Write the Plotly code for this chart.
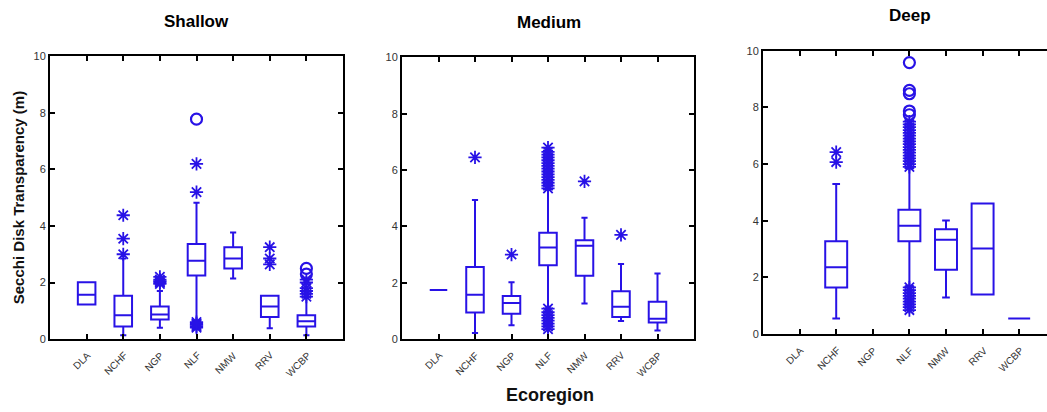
import plotly.graph_objects as go

categories = ["DLA", "NCHF", "NGP", "NLF", "NMW", "RRV", "WCBP"]
tick_labels = ["DLA", "NCHF", "NGP", "NLF", "NMW", "RRV", "WCBP"]
panel_titles = ["Shallow", "Medium", "Deep"]
y_ticks = [0, 2, 4, 6, 8, 10]

# Box statistics per panel (None = no data)
shallow_q1 = [1.22, 0.44, 0.69, 2.25, 2.50, 0.78, 0.44]
shallow_med = [1.57, 0.84, 0.87, 2.77, 2.85, 1.15, 0.63]
shallow_q3 = [2.01, 1.53, 1.15, 3.36, 3.25, 1.53, 0.84]
shallow_lo = [1.22, 0.13, 0.40, 0.65, 2.14, 0.38, 0.13]
shallow_hi = [2.01, 2.85, 1.70, 4.82, 3.77, 1.53, 1.47]

medium_q1 = [1.74, 0.94, 0.90, 2.62, 2.25, 0.78, 0.59]
medium_med = [1.74, 1.57, 1.28, 3.25, 3.31, 1.15, 0.72]
medium_q3 = [1.74, 2.56, 1.53, 3.77, 3.51, 1.70, 1.32]
medium_lo = [1.74, 0.21, 0.49, 1.15, 1.26, 0.64, 0.30]
medium_hi = [1.74, 4.94, 2.02, 5.30, 4.31, 2.66, 2.33]

deep_q1 = [None, 1.65, None, 3.28, 2.27, 1.40, 0.55]
deep_med = [None, 2.36, None, 3.82, 3.33, 3.02, 0.55]
deep_q3 = [None, 3.28, None, 4.39, 3.70, 4.61, 0.55]
deep_lo = [None, 0.55, None, 1.70, 1.29, 1.40, 0.55]
deep_hi = [None, 5.30, None, 5.85, 4.01, 4.61, 0.55]

# Outside values (asterisks) and far outside values (circles)
shallow_star_cat = ["NCHF", "NCHF", "NCHF", "NGP", "NGP", "NGP", "NGP", "NGP",
                    "NLF", "NLF", "NLF", "NLF", "NLF", "NLF", "NLF",
                    "RRV", "RRV", "RRV",
                    "WCBP", "WCBP", "WCBP", "WCBP", "WCBP", "WCBP"]
shallow_star_val = [3.00, 3.55, 4.38, 1.95, 2.00, 2.05, 2.10, 2.20,
                    0.40, 0.45, 0.50, 0.55, 0.60, 5.20, 6.20,
                    2.64, 2.85, 3.25,
                    1.50, 1.60, 1.70, 1.80, 2.00, 2.10]
shallow_circ_cat = ["NLF", "WCBP", "WCBP"]
shallow_circ_val = [7.78, 2.30, 2.50]

medium_star_cat = ["NCHF", "NGP",
                   "NLF", "NLF", "NLF", "NLF", "NLF", "NLF", "NLF", "NLF",
                   "NLF", "NLF", "NLF", "NLF", "NLF", "NLF", "NLF",
                   "NLF", "NLF", "NLF", "NLF", "NLF", "NLF", "NLF", "NLF",
                   "NMW", "RRV"]
medium_star_val = [6.45, 3.00,
                   5.35, 5.45, 5.55, 5.65, 5.75, 5.85, 5.95, 6.05,
                   6.15, 6.25, 6.35, 6.45, 6.55, 6.65, 6.80,
                   0.35, 0.45, 0.55, 0.65, 0.75, 0.85, 0.95, 1.08,
                   5.60, 3.70]
medium_circ_cat = []
medium_circ_val = []

deep_star_cat = ["NCHF", "NCHF",
                 "NLF", "NLF", "NLF", "NLF", "NLF", "NLF", "NLF", "NLF", "NLF",
                 "NLF", "NLF", "NLF", "NLF", "NLF", "NLF", "NLF", "NLF",
                 "NLF", "NLF", "NLF", "NLF", "NLF", "NLF", "NLF", "NLF", "NLF"]
deep_star_val = [6.07, 6.42,
                 5.90, 6.00, 6.10, 6.20, 6.30, 6.40, 6.50, 6.60, 6.70,
                 6.80, 6.90, 7.00, 7.10, 7.20, 7.30, 7.40, 7.50,
                 0.85, 0.95, 1.05, 1.15, 1.25, 1.35, 1.45, 1.55, 1.65]
deep_circ_cat = ["NLF", "NLF", "NLF", "NLF", "NLF"]
deep_circ_val = [7.74, 7.87, 8.48, 8.60, 9.58]

BLUE = "#2812e6"
FONT = "Liberation Sans, Arial, sans-serif"
W, H = 1047, 412

panels = [
    dict(q1=shallow_q1, med=shallow_med, q3=shallow_q3, lo=shallow_lo, hi=shallow_hi,
         sc=shallow_star_cat, sv=shallow_star_val, cc=shallow_circ_cat, cv=shallow_circ_val,
         px=(50, 343), py=(52, 343), bw=0.48, xr=[-1, 7], mirror_y="ticks"),
    dict(q1=medium_q1, med=medium_med, q3=medium_q3, lo=medium_lo, hi=medium_hi,
         sc=medium_star_cat, sv=medium_star_val, cc=medium_circ_cat, cv=medium_circ_val,
         px=(402, 694), py=(53, 343), bw=0.48, xr=[-1, 7], mirror_y="ticks"),
    dict(q1=deep_q1, med=deep_med, q3=deep_q3, lo=deep_lo, hi=deep_hi,
         sc=deep_star_cat, sv=deep_star_val, cc=deep_circ_cat, cv=deep_circ_val,
         px=(763, 1047), py=(46, 338), bw=0.6, xr=[-1, 6.76], mirror_y=False),
]

fig = go.Figure()
layout = dict(
    width=W, height=H, margin=dict(l=0, r=0, t=0, b=0),
    paper_bgcolor="white", plot_bgcolor="white", showlegend=False,
    font=dict(family=FONT, color="black"),
)
annotations = []

for i, p in enumerate(panels):
    n = i + 1
    xa = "x" if n == 1 else f"x{n}"
    ya = "y" if n == 1 else f"y{n}"
    idx = [k for k in range(len(categories)) if p["q1"][k] is not None]
    fig.add_trace(go.Box(
        x=[categories[k] for k in idx],
        q1=[p["q1"][k] for k in idx],
        median=[p["med"][k] for k in idx],
        q3=[p["q3"][k] for k in idx],
        lowerfence=[p["lo"][k] for k in idx],
        upperfence=[p["hi"][k] for k in idx],
        boxpoints=False, width=p["bw"], whiskerwidth=0.35,
        line=dict(color=BLUE, width=2), fillcolor="rgba(0,0,0,0)",
        xaxis=xa, yaxis=ya, hoverinfo="skip",
    ))
    if p["sc"]:
        fig.add_trace(go.Scatter(
            x=p["sc"], y=p["sv"], mode="markers", xaxis=xa, yaxis=ya,
            marker=dict(symbol="asterisk-open", size=11, color=BLUE,
                        line=dict(color=BLUE, width=1.8)),
        ))
    if p["cc"]:
        fig.add_trace(go.Scatter(
            x=p["cc"], y=p["cv"], mode="markers", xaxis=xa, yaxis=ya,
            marker=dict(symbol="circle-open", size=11, color=BLUE,
                        line=dict(color=BLUE, width=2.2)),
        ))
    xd = [p["px"][0] / W, p["px"][1] / W]
    yd = [(H - p["py"][1]) / H, (H - p["py"][0]) / H]
    layout["xaxis" if n == 1 else f"xaxis{n}"] = dict(
        domain=xd, anchor=ya, type="category", categoryorder="array",
        categoryarray=categories, range=p["xr"], showgrid=False, zeroline=False,
        showline=True, linecolor="black", linewidth=2, mirror="ticks",
        ticks="inside", ticklen=5, tickwidth=2, tickcolor="black",
        showticklabels=False,
    )
    layout["yaxis" if n == 1 else f"yaxis{n}"] = dict(
        domain=yd, anchor=xa, range=[0, 10], tickmode="array", tickvals=y_ticks,
        showgrid=False, zeroline=False, showline=True, linecolor="black",
        linewidth=2, mirror=p["mirror_y"], ticks="inside", ticklen=5,
        tickwidth=2, tickcolor="black", tickfont=dict(size=11, family=FONT, color="#333"),
    )
    # rotated category labels
    for cat, lab in zip(categories, tick_labels):
        annotations.append(dict(
            text=lab, xref=xa, yref="paper", x=cat, y=(H - p["py"][1] - 8) / H,
            xanchor="right", yanchor="top", textangle=-45, showarrow=False,
            xshift=9, font=dict(size=10, family=FONT, color="#333"),
        ))
    annotations.append(dict(
        text=f"<b>{panel_titles[i]}</b>", xref="paper", yref="paper",
        x=(p["px"][0] + (p["px"][0] + 293)) / 2 / W, y=(H - p["py"][0] + 36) / H,
        xanchor="center", yanchor="middle", showarrow=False,
        font=dict(size=17, family=FONT, color="black"),
    ))

annotations.append(dict(
    text="<b>Secchi Disk Transparency (m)</b>", xref="paper", yref="paper",
    x=18 / W, y=(H - 198) / H, textangle=-90, xanchor="center", yanchor="middle",
    showarrow=False, font=dict(size=15, family=FONT, color="#111"),
))
annotations.append(dict(
    text="<b>Ecoregion</b>", xref="paper", yref="paper",
    x=550 / W, y=(H - 401) / H, xanchor="center", yanchor="middle",
    showarrow=False, font=dict(size=18, family=FONT, color="#111"),
))
layout["annotations"] = annotations
fig.update_layout(**layout)
fig.write_html("out.html")
